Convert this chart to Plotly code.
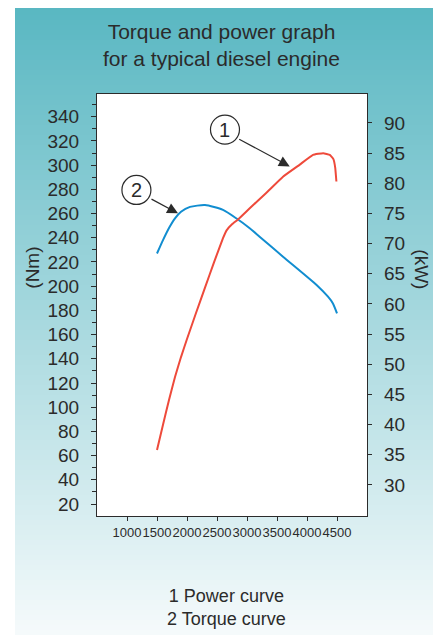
import plotly.graph_objects as go

# engine speed (rpm) / power (kW)
power_rpm = [1500, 1600, 1700, 1800, 1900, 2000, 2150, 2300, 2450, 2600, 2660,
             2750, 2850, 3050, 3320, 3600, 3880, 4100, 4270, 4380, 4440, 4470, 4490]
power_kw = [35.8, 40.0, 44.1, 47.9, 51.2, 54.2, 58.5, 62.7, 66.9, 70.9, 72.2,
            73.2, 74.0, 75.9, 78.4, 81.1, 83.1, 84.7, 85.0, 84.7, 84.0, 82.6, 80.3]

# engine speed (rpm) / torque (Nm)
torque_rpm = [1500, 1600, 1700, 1800, 1900, 2050, 2300, 2600, 2820, 3045, 3210,
              3600, 4160, 4350, 4430, 4500]
torque_nm = [227.0, 238.0, 248.0, 256.0, 261.5, 265.5, 267.0, 263.0, 256.1, 247.9,
             240.9, 224.4, 201.0, 191.3, 185.9, 177.6]

x_ticks = [1000, 1500, 2000, 2500, 3000, 3500, 4000, 4500]
nm_ticks = list(range(20, 341, 20))
nm_minor = list(range(30, 351, 20))
kw_ticks = [30, 35, 40, 45, 50, 55, 60, 65, 70, 75, 80, 85, 90]

# the page body adds an 8px margin, so the figure is laid out 8px smaller
OFF = 8
W, H = 441 - OFF, 635 - OFF
L, T = 97 - OFF, 94 - OFF
pw, ph = 270, 422
R, B = W - L - pw, H - T - ph

FONT = "Liberation Sans, Arial, sans-serif"
INK = "#2b2b2b"
RED = "#ee4a3b"
BLUE = "#118dd0"


def px_x(px):
    # screen pixel -> paper x
    return (px - OFF - L) / pw


def px_y(py):
    # screen pixel -> paper y
    return (T + ph - (py - OFF)) / ph


fig = go.Figure()
fig.add_trace(go.Scatter(x=power_rpm, y=power_kw, yaxis="y2", mode="lines",
                         line=dict(color=RED, width=2, shape="spline", smoothing=0.3),
                         hoverinfo="skip"))
fig.add_trace(go.Scatter(x=torque_rpm, y=torque_nm, mode="lines",
                         line=dict(color=BLUE, width=2, shape="spline", smoothing=0.6),
                         hoverinfo="skip"))

# background gradient drawn as thin bands
shapes = []
top_c = (89, 183, 194)
bot_c = (245, 250, 251)
y_top, y_bot = 5, 635
n = 126
for i in range(n):
    t = i / (n - 1)
    c = tuple(round(top_c[k] + (bot_c[k] - top_c[k]) * t) for k in range(3))
    p0 = y_top + (y_bot - y_top) * i / n
    p1 = y_top + (y_bot - y_top) * (i + 1) / n + 0.6
    shapes.append(dict(type="rect", xref="paper", yref="paper", layer="below",
                       x0=px_x(15), x1=px_x(438), y0=px_y(p1), y1=px_y(p0),
                       fillcolor="rgb(%d,%d,%d)" % c, line=dict(width=0)))
shapes.append(dict(type="rect", xref="paper", yref="paper", layer="below",
                   x0=0, x1=1, y0=0, y1=1, fillcolor="white", line=dict(width=0)))

# numbered circles
shapes.append(dict(type="circle", xref="x", yref="y2", xsizemode="pixel", ysizemode="pixel",
                   xanchor=2633, yanchor=88.9, x0=-14.5, x1=14.5, y0=-14.5, y1=14.5,
                   line=dict(color=INK, width=1.2), fillcolor="white"))
shapes.append(dict(type="circle", xref="x", yref="y", xsizemode="pixel", ysizemode="pixel",
                   xanchor=1157, yanchor=279.5, x0=-14.5, x1=14.5, y0=-14.5, y1=14.5,
                   line=dict(color=INK, width=1.2), fillcolor="white"))


def label(text, x, y, size, angle=0, xref="paper", yref="paper"):
    return dict(x=x, y=y, xref=xref, yref=yref, text=text, showarrow=False,
                xanchor="center", yanchor="middle", textangle=angle,
                font=dict(size=size, color=INK, family=FONT))


annotations = [
    label("Torque and power graph<br>for a typical diesel engine", px_x(221.5), px_y(45), 21),
    label("1", 2633, 88.9, 20, xref="x", yref="y2"),
    label("2", 1157, 279.5, 20, xref="x", yref="y"),
    dict(x=3712, y=82.8, xref="x", yref="y2", text="", showarrow=True,
         ax=-52, ay=-28, arrowhead=2, arrowsize=1.8, arrowwidth=1.2, arrowcolor=INK),
    dict(x=1850, y=260.2, xref="x", yref="y", text="", showarrow=True,
         ax=-28, ay=-15, arrowhead=2, arrowsize=1.8, arrowwidth=1.2, arrowcolor=INK),
    label("(Nm)", px_x(31.7), px_y(268), 19, angle=-90),
    label("(kW)", px_x(421.7), px_y(269), 19, angle=90),
    label("1 Power curve<br>2 Torque curve", px_x(226), px_y(607), 18),
]

fig.update_layout(
    template="none",
    width=W, height=H,
    margin=dict(l=L, r=R, t=T, b=B),
    paper_bgcolor="white", plot_bgcolor="white",
    showlegend=False,
    font=dict(family=FONT, color=INK),
    xaxis=dict(range=[500, 5000], tickvals=x_ticks, ticks="outside", ticklen=4,
               tickangle=0, automargin=False,
               tickcolor=INK, showline=True, linecolor=INK, linewidth=1.2, mirror=True,
               showgrid=False, zeroline=False, tickfont=dict(size=13, color=INK)),
    yaxis=dict(range=[10.1, 358.8], tickvals=nm_ticks, ticks="outside", ticklen=5,
               automargin=False, ticklabelstandoff=8,
               tickcolor=INK, showline=True, linecolor=INK, linewidth=1.2,
               showgrid=False, zeroline=False, tickfont=dict(size=19, color=INK),
               minor=dict(tickvals=nm_minor, ticks="outside", ticklen=4, tickcolor=INK,
                          showgrid=False)),
    yaxis2=dict(range=[24.86, 94.8], tickvals=kw_ticks, overlaying="y", side="right",
                automargin=False, ticklabelstandoff=8,
                ticks="outside", ticklen=4, tickcolor=INK, showline=True, linecolor=INK,
                linewidth=1.2, showgrid=False, zeroline=False,
                tickfont=dict(size=19, color=INK)),
    shapes=shapes,
    annotations=annotations,
)

fig.write_html("out.html")
